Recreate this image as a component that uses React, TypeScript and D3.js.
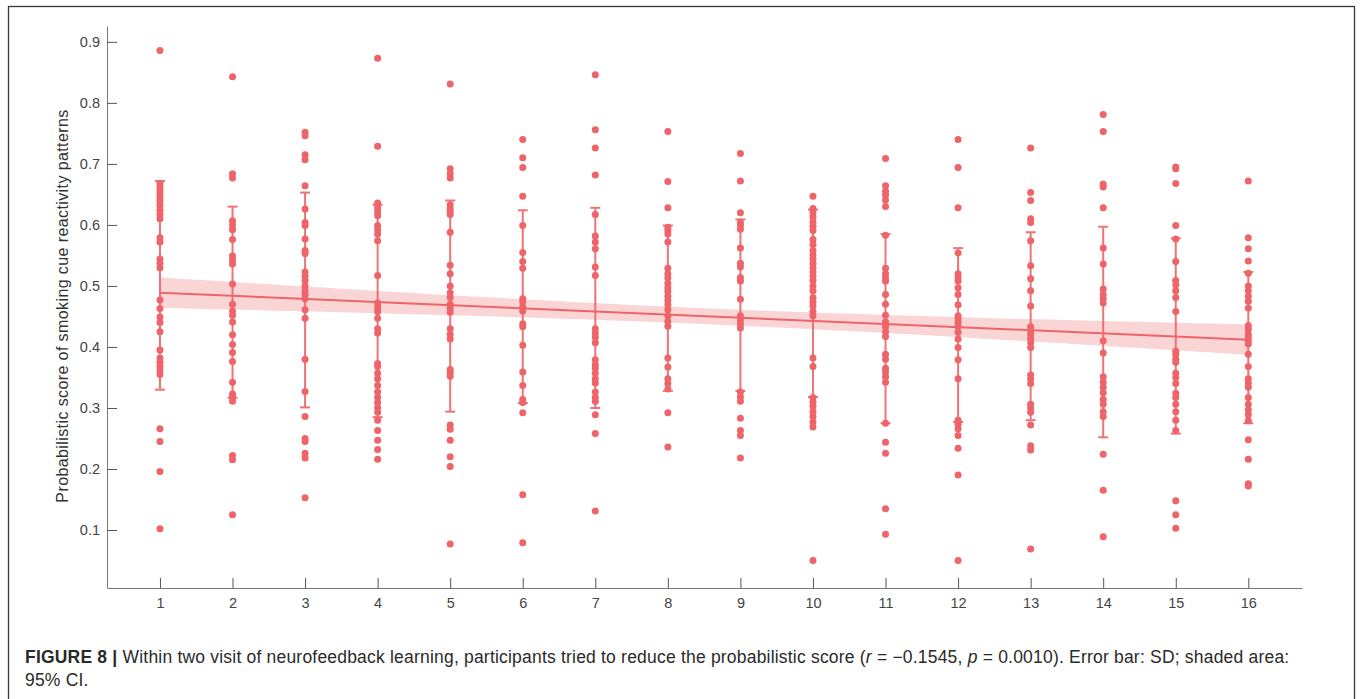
import { useEffect, useRef } from "react";
import * as d3 from "d3";

// visits 1..16 on the x axis
const visits = d3.range(1, 17);
const tickLabels = ["0.1", "0.2", "0.3", "0.4", "0.5", "0.6", "0.7", "0.8", "0.9"];

// probabilistic scores per visit
const v1 = [0.886, 0.668, 0.662, 0.657, 0.651, 0.645, 0.639, 0.632, 0.624, 0.617, 0.61, 0.579, 0.572, 0.544, 0.537, 0.53, 0.477, 0.463, 0.449, 0.44, 0.425, 0.395, 0.382, 0.375, 0.368, 0.361, 0.355, 0.266, 0.245, 0.196, 0.102];
const v2 = [0.843, 0.684, 0.677, 0.607, 0.6, 0.592, 0.576, 0.549, 0.543, 0.536, 0.503, 0.47, 0.459, 0.452, 0.441, 0.42, 0.404, 0.391, 0.376, 0.342, 0.323, 0.317, 0.311, 0.222, 0.215, 0.125];
const v3 = [0.752, 0.746, 0.715, 0.707, 0.664, 0.626, 0.604, 0.599, 0.577, 0.558, 0.553, 0.523, 0.516, 0.509, 0.5, 0.492, 0.486, 0.479, 0.461, 0.447, 0.38, 0.327, 0.286, 0.25, 0.245, 0.226, 0.218, 0.153];
const v4 = [0.873, 0.729, 0.636, 0.628, 0.622, 0.615, 0.599, 0.592, 0.585, 0.574, 0.517, 0.472, 0.465, 0.458, 0.447, 0.43, 0.423, 0.373, 0.368, 0.357, 0.348, 0.337, 0.326, 0.317, 0.309, 0.301, 0.293, 0.28, 0.263, 0.247, 0.232, 0.216];
const v5 = [0.831, 0.692, 0.684, 0.677, 0.633, 0.627, 0.622, 0.617, 0.588, 0.534, 0.52, 0.5, 0.489, 0.481, 0.47, 0.464, 0.457, 0.43, 0.421, 0.413, 0.363, 0.358, 0.352, 0.272, 0.265, 0.247, 0.22, 0.204, 0.077];
const v6 = [0.74, 0.71, 0.694, 0.647, 0.599, 0.555, 0.54, 0.529, 0.479, 0.474, 0.466, 0.459, 0.438, 0.433, 0.403, 0.359, 0.337, 0.314, 0.309, 0.292, 0.158, 0.079];
const v7 = [0.846, 0.756, 0.726, 0.682, 0.617, 0.582, 0.572, 0.561, 0.531, 0.517, 0.43, 0.423, 0.416, 0.407, 0.379, 0.371, 0.365, 0.357, 0.348, 0.341, 0.326, 0.317, 0.311, 0.289, 0.258, 0.131];
const v8 = [0.753, 0.671, 0.628, 0.596, 0.591, 0.585, 0.572, 0.529, 0.52, 0.513, 0.504, 0.497, 0.491, 0.483, 0.476, 0.469, 0.461, 0.451, 0.442, 0.434, 0.382, 0.367, 0.348, 0.34, 0.331, 0.292, 0.236];
const v9 = [0.717, 0.672, 0.62, 0.604, 0.599, 0.593, 0.562, 0.537, 0.531, 0.514, 0.508, 0.478, 0.451, 0.444, 0.438, 0.431, 0.326, 0.318, 0.311, 0.283, 0.263, 0.255, 0.218];
const v10 = [0.647, 0.627, 0.62, 0.613, 0.605, 0.598, 0.591, 0.576, 0.568, 0.558, 0.551, 0.544, 0.537, 0.53, 0.523, 0.516, 0.509, 0.5, 0.492, 0.481, 0.474, 0.467, 0.458, 0.451, 0.382, 0.368, 0.317, 0.31, 0.303, 0.294, 0.286, 0.277, 0.269, 0.05];
const v11 = [0.709, 0.664, 0.655, 0.649, 0.641, 0.63, 0.583, 0.529, 0.52, 0.513, 0.508, 0.486, 0.47, 0.452, 0.441, 0.433, 0.425, 0.417, 0.388, 0.38, 0.365, 0.359, 0.351, 0.342, 0.275, 0.244, 0.226, 0.135, 0.093];
const v12 = [0.74, 0.694, 0.628, 0.554, 0.52, 0.514, 0.508, 0.497, 0.486, 0.469, 0.451, 0.446, 0.44, 0.433, 0.424, 0.413, 0.399, 0.379, 0.348, 0.28, 0.273, 0.266, 0.255, 0.234, 0.19, 0.05];
const v13 = [0.726, 0.653, 0.64, 0.61, 0.604, 0.574, 0.533, 0.512, 0.492, 0.467, 0.433, 0.427, 0.421, 0.414, 0.407, 0.399, 0.354, 0.348, 0.34, 0.306, 0.3, 0.293, 0.272, 0.238, 0.231, 0.069];
const v14 = [0.781, 0.753, 0.667, 0.662, 0.628, 0.562, 0.536, 0.495, 0.486, 0.479, 0.472, 0.41, 0.39, 0.351, 0.342, 0.334, 0.325, 0.314, 0.306, 0.294, 0.286, 0.224, 0.165, 0.089];
const v15 = [0.695, 0.692, 0.668, 0.599, 0.577, 0.54, 0.509, 0.502, 0.492, 0.481, 0.458, 0.393, 0.388, 0.38, 0.375, 0.357, 0.35, 0.34, 0.324, 0.317, 0.306, 0.294, 0.28, 0.263, 0.148, 0.125, 0.103];
const v16 = [0.672, 0.579, 0.561, 0.541, 0.521, 0.5, 0.492, 0.483, 0.475, 0.464, 0.435, 0.429, 0.421, 0.416, 0.41, 0.405, 0.388, 0.368, 0.348, 0.341, 0.334, 0.317, 0.306, 0.297, 0.289, 0.279, 0.248, 0.216, 0.176, 0.172];
const scores = [v1, v2, v3, v4, v5, v6, v7, v8, v9, v10, v11, v12, v13, v14, v15, v16];

// error bars (mean +/- SD) as drawn in the figure
const barMean = [0.501, 0.4735, 0.477, 0.459, 0.467, 0.466, 0.464, 0.4635, 0.4685, 0.4715, 0.43, 0.4195, 0.434, 0.4245, 0.418, 0.399];
const barSd = [0.171, 0.1565, 0.176, 0.174, 0.173, 0.158, 0.164, 0.1355, 0.1405, 0.1535, 0.155, 0.1425, 0.154, 0.1725, 0.16, 0.124];

// linear fit and its 95% CI half width
const fitAtFirst = 0.489;
const fitAtLast = 0.412;
const ciMid = 0.013;
const ciEnd = 0.025;

const RED = "#ee6468";

export default function App() {
  const ref = useRef<SVGSVGElement>(null);

  useEffect(() => {
    if (!ref.current) return;
    const svg = d3.select(ref.current);
    svg.selectAll("*").remove();

    const font = "'Liberation Sans', Arial, Helvetica, sans-serif";

    // outer frame
    svg.append("rect")
      .attr("x", 8.5).attr("y", 6.5)
      .attr("width", 1346).attr("height", 720)
      .attr("fill", "none").attr("stroke", "#3a3a3a").attr("stroke-width", 1.3);

    const x = d3.scaleLinear().domain([0.27, 16.74]).range([107, 1302]);
    const y = d3.scaleLinear().domain([0.005, 0.926]).range([588, 26]);

    // confidence band + fit line
    const first = visits[0];
    const last = visits[visits.length - 1];
    const mid = (first + last) / 2;
    const slope = (fitAtLast - fitAtFirst) / (last - first);
    const fit = (t: number) => fitAtFirst + slope * (t - first);
    const b2 = (ciEnd * ciEnd - ciMid * ciMid) / ((last - mid) * (last - mid));
    const hw = (t: number) => Math.sqrt(ciMid * ciMid + b2 * (t - mid) * (t - mid));
    const xs = d3.range(first, last + 0.001, 0.25);

    svg.append("path")
      .datum(xs)
      .attr("fill", RED).attr("fill-opacity", 0.27)
      .attr("d", d3.area<number>()
        .x((t) => x(t))
        .y0((t) => y(fit(t) - hw(t)))
        .y1((t) => y(fit(t) + hw(t)))(xs)!);

    svg.append("line")
      .attr("x1", x(first)).attr("x2", x(last))
      .attr("y1", y(fit(first))).attr("y2", y(fit(last)))
      .attr("stroke", RED).attr("stroke-width", 2);

    // error bars
    const eb = svg.append("g").attr("stroke", RED).attr("stroke-width", 2).attr("opacity", 0.9);
    visits.forEach((v, i) => {
      const lo = y(barMean[i] - barSd[i]);
      const hi = y(barMean[i] + barSd[i]);
      eb.append("line").attr("x1", x(v)).attr("x2", x(v)).attr("y1", lo).attr("y2", hi);
      eb.append("line").attr("x1", x(v) - 5).attr("x2", x(v) + 5).attr("y1", lo).attr("y2", lo);
      eb.append("line").attr("x1", x(v) - 5).attr("x2", x(v) + 5).attr("y1", hi).attr("y2", hi);
    });

    // dots
    const pts = scores.flatMap((arr, i) => arr.map((s) => ({ v: visits[i], s })));
    svg.append("g").selectAll("circle")
      .data(pts)
      .enter()
      .append("circle")
      .attr("cx", (d) => x(d.v))
      .attr("cy", (d) => y(d.s))
      .attr("r", 3.5)
      .attr("fill", RED);

    // axes
    const xAxis = svg.append("g")
      .attr("transform", "translate(0,588)")
      .call(d3.axisBottom(x).tickValues(visits).tickFormat(d3.format("d")).tickSizeInner(-10).tickSizeOuter(0).tickPadding(10));
    const yAxis = svg.append("g")
      .attr("transform", "translate(107,0)")
      .call(d3.axisLeft(y).tickValues(tickLabels.map(Number)).tickFormat((d, i) => tickLabels[i]).tickSizeInner(-10).tickSizeOuter(0).tickPadding(7));

    [xAxis, yAxis].forEach((g) => {
      g.select(".domain").attr("stroke", "#777");
      g.selectAll(".tick line").attr("stroke", "#555");
      g.selectAll("text")
        .attr("fill", "#444")
        .style("font-family", font)
        .style("font-size", "14.5px");
    });

    svg.append("text")
      .attr("transform", "translate(68,306) rotate(-90)")
      .attr("text-anchor", "middle")
      .style("font-family", font)
      .style("font-size", "16px")
      .style("letter-spacing", "0.4px")
      .attr("fill", "#333")
      .text("Probabilistic score of smoking cue reactivity patterns");

    // caption
    const cap = svg.append("text")
      .attr("x", 25).attr("y", 663)
      .style("font-family", font)
      .style("font-size", "17.5px")
      .style("letter-spacing", "0.2px")
      .attr("fill", "#2a2a2a");
    cap.append("tspan").attr("font-weight", "bold").text("FIGURE 8 | ");
    cap.append("tspan").text("Within two visit of neurofeedback learning, participants tried to reduce the probabilistic score (");
    cap.append("tspan").attr("font-style", "italic").text("r");
    cap.append("tspan").text(" = \u22120.1545, ");
    cap.append("tspan").attr("font-style", "italic").text("p");
    cap.append("tspan").text(" = 0.0010). Error bar: SD; shaded area:");

    svg.append("text")
      .attr("x", 25).attr("y", 686)
      .style("font-family", font)
      .style("font-size", "17.5px")
      .style("letter-spacing", "0.2px")
      .attr("fill", "#2a2a2a")
      .text("95% CI.");
  }, []);

  return (
    <svg
      ref={ref}
      width={1360}
      height={699}
      style={{ position: "absolute", left: 0, top: 0, background: "#fff" }}
    />
  );
}
